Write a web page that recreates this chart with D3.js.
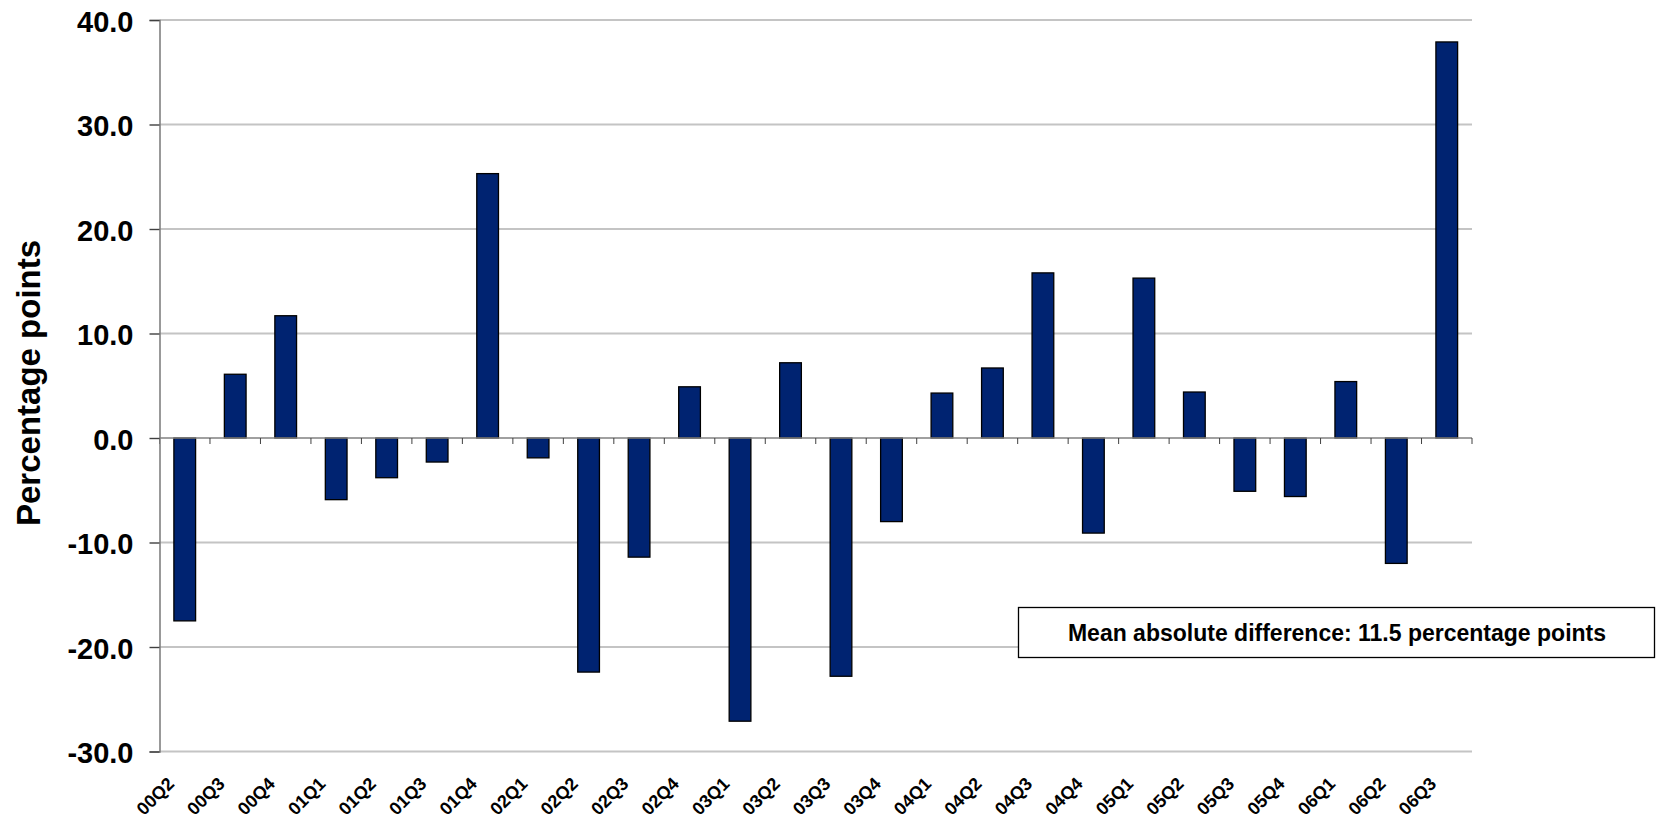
<!DOCTYPE html>
<html>
<head>
<meta charset="utf-8">
<script src="https://cdn.jsdelivr.net/npm/d3@7"></script>
<style>
  html, body { margin: 0; padding: 0; background: #fff; }
  svg { display: block; font-family: "Liberation Sans", Arial, sans-serif; }
</style>
</head>
<body>
<svg id="chart" width="1656" height="820"></svg>
<script>
const categories = ["00Q2","00Q3","00Q4","01Q1","01Q2","01Q3","01Q4","02Q1","02Q2","02Q3","02Q4","03Q1","03Q2","03Q3","03Q4","04Q1","04Q2","04Q3","04Q4","05Q1","05Q2","05Q3","05Q4","06Q1","06Q2","06Q3"];
const values = [-17.5, 6.1, 11.7, -5.9, -3.8, -2.3, 25.3, -1.9, -22.4, -11.4, 4.9, -27.1, 7.2, -22.8, -8.0, 4.3, 6.7, 15.8, -9.1, 15.3, 4.4, -5.1, -5.6, 5.4, -12.0, 37.9];
const yTicks = [40, 30, 20, 10, 0, -10, -20, -30];
const yTitle = "Percentage points";
const note = "Mean absolute difference: 11.5 percentage points";

(function () {
const svg = d3.select("#chart");
const pLeft = 159.5, pRight = 1472, pTop = 20, pBottom = 751.5;

const y = d3.scaleLinear().domain([-30, 40]).range([pBottom, pTop]);
const x = d3.scaleBand().domain(categories).range([pLeft, pRight])
  .paddingInner(0.57).paddingOuter(0.285);

// gridlines
svg.append("g").selectAll("line").data(yTicks.filter(d => d !== 0)).join("line")
  .attr("x1", pLeft).attr("x2", pRight)
  .attr("y1", d => y(d)).attr("y2", d => y(d))
  .attr("stroke", "#c4c4c4").attr("stroke-width", 2);

// bars
svg.append("g").selectAll("rect").data(values).join("rect")
  .attr("x", (d, i) => x(categories[i]))
  .attr("width", x.bandwidth())
  .attr("y", d => y(Math.max(0, d)))
  .attr("height", d => Math.abs(y(d) - y(0)))
  .attr("fill", "#002371")
  .attr("stroke", "#000").attr("stroke-width", 1.3);

// zero axis with ticks at band boundaries
const zero = svg.append("g");
zero.append("line").attr("x1", pLeft).attr("x2", pRight)
  .attr("y1", y(0)).attr("y2", y(0))
  .attr("stroke", "#808080").attr("stroke-width", 1.6);
const step = x.step();
zero.selectAll("line.tk").data(d3.range(categories.length + 1)).join("line")
  .attr("class", "tk")
  .attr("x1", i => pLeft + i * step).attr("x2", i => pLeft + i * step)
  .attr("y1", y(0)).attr("y2", y(0) + 6)
  .attr("stroke", "#404040").attr("stroke-width", 1);

// y axis
const fmt = d => d.toFixed(1);
const yAxis = d3.axisLeft(y).tickValues(yTicks).tickSize(10).tickFormat(fmt);
const ya = svg.append("g").attr("transform", `translate(${pLeft},0)`).call(yAxis);
ya.select(".domain").attr("stroke", "#808080").attr("stroke-width", 1.6);
ya.selectAll(".tick line").attr("stroke", "#404040").attr("stroke-width", 1.4);
ya.selectAll(".tick text")
  .attr("x", -26).attr("dy", "0.38em")
  .attr("font-size", 29).attr("font-weight", "bold").attr("fill", "#000")
  .attr("font-family", "Liberation Sans, Arial, sans-serif");

// x labels
svg.append("g").selectAll("text").data(categories).join("text")
  .attr("transform", d => `translate(${x(d) + x.bandwidth() / 2 - 9.5},785) rotate(-45)`)
  .attr("text-anchor", "end")
  .attr("font-size", 18).attr("font-weight", "bold").attr("fill", "#000")
  .text(d => d);

// y title
svg.append("text")
  .attr("transform", `translate(40,383) rotate(-90)`)
  .attr("text-anchor", "middle")
  .attr("font-size", 33).attr("font-weight", "bold").attr("fill", "#000")
  .text(yTitle);

// note box
svg.append("rect").attr("x", 1018.5).attr("y", 607.5).attr("width", 636).attr("height", 50)
  .attr("fill", "#fff").attr("stroke", "#000").attr("stroke-width", 1.3);
svg.append("text").attr("x", 1337).attr("y", 641)
  .attr("text-anchor", "middle")
  .attr("font-size", 23).attr("font-weight", "bold").attr("fill", "#000")
  .text(note);
})();
</script>
</body>
</html>
